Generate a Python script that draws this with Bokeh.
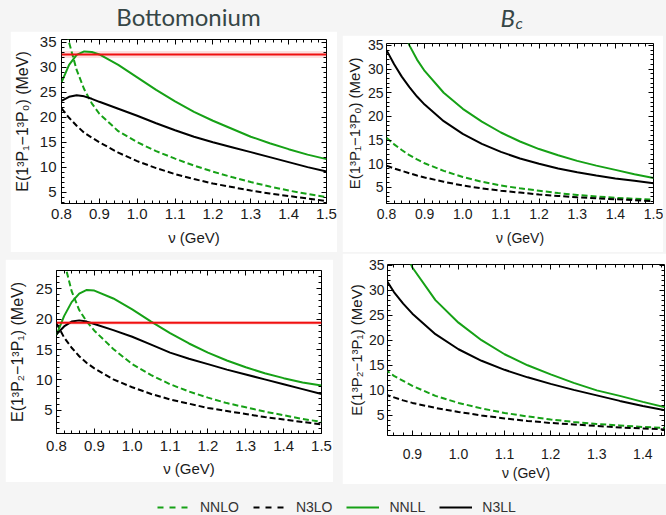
import numpy as np
from bokeh.plotting import figure
from bokeh.models import (Range1d, FixedTicker, LinearAxis, NumeralTickFormatter,
                          Span, BoxAnnotation, Legend, LegendItem)
from bokeh.layouts import column, row
from bokeh.core.properties import value
from bokeh.embed import file_html
from bokeh.resources import INLINE

# ---- renormalization scale nu (GeV) ----
nu = [0.80, 0.82, 0.84, 0.86, 0.88, 0.90, 0.95, 1.00, 1.05, 1.10, 1.15, 1.20,
      1.25, 1.30, 1.35, 1.40, 1.45, 1.50]
nu_bc2 = [0.84, 0.86, 0.88, 0.90, 0.95, 1.00, 1.05, 1.10, 1.15, 1.20, 1.25,
          1.30, 1.35, 1.40, 1.45, 1.50]

# ---- Bottomonium, E(1^3P_1 - 1^3P_0) in MeV ----
bb10_nnlo = [42.0, 35.0, 29.5, 25.6, 22.8, 20.7, 17.2, 15.0, 13.2, 11.7, 10.3, 9.1,
             8.0, 7.0, 6.1, 5.3, 4.6, 4.0]
bb10_n3lo = [21.8, 19.9, 18.3, 16.9, 15.9, 15.0, 12.9, 11.2, 9.8, 8.6, 7.6, 6.7,
             6.0, 5.3, 4.7, 4.2, 3.7, 3.2]
bb10_nnll = [27.0, 30.5, 32.5, 33.2, 33.1, 32.6, 30.5, 28.0, 25.5, 23.2, 21.1, 19.3,
             17.7, 16.1, 14.8, 13.6, 12.5, 11.6]
bb10_n3ll = [23.3, 24.1, 24.4, 24.2, 23.7, 23.1, 21.7, 20.3, 18.8, 17.4, 16.1, 15.0,
             14.0, 13.0, 12.0, 11.0, 10.0, 9.1]
bb10_exp, bb10_err = 32.6, 0.7

# ---- Bottomonium, E(1^3P_2 - 1^3P_1) in MeV ----
bb21_nnlo = [36.5, 29.5, 24.6, 21.5, 19.6, 18.1, 15.1, 12.6, 10.8, 9.3, 8.1, 7.1,
             6.2, 5.5, 4.8, 4.2, 3.6, 3.1]
bb21_n3lo = [19.3, 17.0, 15.3, 13.9, 12.8, 11.9, 10.1, 8.8, 7.7, 6.8, 6.1, 5.4,
             4.9, 4.4, 3.9, 3.5, 3.1, 2.7]
bb21_nnll = [17.4, 20.5, 22.8, 24.2, 24.8, 24.7, 23.4, 21.6, 19.6, 17.7, 16.0, 14.5,
             13.2, 12.1, 11.1, 10.3, 9.6, 9.1]
bb21_n3ll = [17.5, 18.8, 19.6, 19.8, 19.6, 19.2, 18.2, 17.1, 15.8, 14.5, 13.5, 12.6,
             11.7, 10.9, 10.1, 9.3, 8.5, 7.7]
bb21_exp, bb21_err = 19.4, 0.3

# ---- B_c, E(1^3P_1 - 1^3P_0) in MeV ----
bc10_nnlo = [15.5, 14.1, 12.9, 11.8, 10.9, 10.1, 8.5, 7.2, 6.2, 5.4, 4.8, 4.3,
             3.8, 3.4, 3.1, 2.8, 2.6, 2.4]
bc10_n3lo = [9.6, 9.0, 8.5, 8.0, 7.5, 7.1, 6.2, 5.4, 4.8, 4.3, 3.9, 3.5,
             3.2, 2.9, 2.7, 2.5, 2.3, 2.1]
bc10_nnll = [52.0, 45.0, 39.5, 35.0, 32.0, 29.6, 25.0, 21.6, 18.9, 16.6, 14.7, 13.1,
             11.8, 10.6, 9.6, 8.7, 7.8, 7.0]
bc10_n3ll = [34.0, 31.0, 28.4, 26.2, 24.2, 22.5, 19.0, 16.3, 14.2, 12.5, 11.1, 10.0,
             9.0, 8.2, 7.5, 6.9, 6.4, 5.9]

# ---- B_c, E(1^3P_2 - 1^3P_1) in MeV ----
bc21_nnlo = [14.2, 12.9, 11.9, 10.9, 8.9, 7.5, 6.4, 5.5, 4.8, 4.2, 3.7, 3.3,
             3.0, 2.7, 2.5, 2.3]
bc21_n3lo = [9.2, 8.6, 8.0, 7.5, 6.5, 5.7, 5.0, 4.4, 3.9, 3.5, 3.2, 2.9,
             2.6, 2.4, 2.2, 2.0]
bc21_nnll = [47.0, 42.0, 38.5, 34.5, 28.0, 23.5, 20.0, 17.2, 15.0, 13.2, 11.5, 10.0,
             8.9, 7.7, 6.6, 5.7]
bc21_n3ll = [32.5, 29.6, 27.3, 25.3, 21.2, 18.2, 15.9, 14.1, 12.6, 11.3, 10.1, 9.0,
             7.9, 6.9, 6.0, 5.2]

# ---- axis ticks ----
x_ticks = [0.8, 0.9, 1.0, 1.1, 1.2, 1.3, 1.4, 1.5]
x_minor = [round(0.8 + 0.02 * i, 2) for i in range(36)]
y_ticks = [5, 10, 15, 20, 25, 30, 35]
y_minor = list(range(0, 37))

series_names = ["NNLO", "N3LO", "NNLL", "N3LL"]

BG = "#f5f5f5"
GREEN = "#16a116"
BLACK = "#000000"
RED = "#f01010"
FONT = "Liberation Sans"
STYLES = {
    "NNLO": dict(color=GREEN, line_dash="6 3"),
    "N3LO": dict(color=BLACK, line_dash="6 3"),
    "NNLL": dict(color=GREEN, line_dash="solid"),
    "N3LL": dict(color=BLACK, line_dash="solid"),
}


def mirror_axis(ticker, at):
    # tick marks only, pinned to the opposite edge of the frame (takes no border space)
    return LinearAxis(ticker=ticker, fixed_location=at, axis_line_color=None,
                      major_tick_in=5, major_tick_out=0,
                      minor_tick_in=3, minor_tick_out=0,
                      major_tick_line_color="black", minor_tick_line_color="black",
                      major_label_text_color=None, major_label_standoff=0)


def panel(w, h, margin, borders, xr, yr, ylabel, xs, curves, tick_px, lab_px,
          x_std, x_lab_std, y_std, y_lab_std, exp=None):
    left, right, top, bottom = borders
    p = figure(width=w, height=h, margin=margin, title=None,
               x_range=Range1d(*xr), y_range=Range1d(*yr),
               output_backend="svg", toolbar_location=None,
               min_border_left=left, min_border_right=right,
               min_border_top=top, min_border_bottom=bottom,
               background_fill_color="white", border_fill_color="white",
               outline_line_color="black", outline_line_width=1)
    p.grid.visible = False
    xt = FixedTicker(ticks=x_ticks, minor_ticks=x_minor)
    yt = FixedTicker(ticks=y_ticks, minor_ticks=y_minor)

    xa, ya = p.xaxis[0], p.yaxis[0]
    xa.ticker, ya.ticker = xt, yt
    xa.formatter = NumeralTickFormatter(format="0.0")
    ya.formatter = NumeralTickFormatter(format="0")
    for ax in (xa, ya):
        ax.axis_line_color = None
        ax.major_tick_in, ax.major_tick_out = 5, 0
        ax.minor_tick_in, ax.minor_tick_out = 3, 0
        ax.major_tick_line_color = "black"
        ax.minor_tick_line_color = "black"
        ax.major_label_text_font = FONT
        ax.major_label_text_font_size = f"{tick_px}px"
        ax.major_label_text_color = "#1a1a1a"
        ax.axis_label_text_font = FONT
        ax.axis_label_text_font_size = f"{lab_px}px"
        ax.axis_label_text_font_style = "normal"
        ax.axis_label_text_color = "#1a1a1a"
    xa.axis_label = "ν (GeV)"
    ya.axis_label = ylabel
    ya.axis_label_text_font_size = f"{lab_px + 1}px"
    xa.major_label_standoff = x_std
    xa.axis_label_standoff = x_lab_std
    ya.major_label_standoff = y_std
    ya.axis_label_standoff = y_lab_std
    p.add_layout(mirror_axis(xt, yr[1]), "above")
    p.add_layout(mirror_axis(yt, xr[1]), "right")

    if exp is not None:
        val, err = exp
        p.add_layout(BoxAnnotation(bottom=val - err, top=val + err, fill_color=RED,
                                   fill_alpha=0.13, line_color=None, level="underlay"))
    for name, ys in zip(series_names, curves):
        p.line(xs, ys, line_width=2, **STYLES[name])
    if exp is not None:
        p.add_layout(Span(location=exp[0], dimension="width", line_color=RED,
                          line_width=2))
    return p


lab10 = "E(1³P₁−1³P₀) (MeV)"
lab21 = "E(1³P₂−1³P₁) (MeV)"

p_bb10 = panel(327, 221, (0, 0, 0, 10), (49, 11, 8, 49), (0.8, 1.5), (2.7, 35.6),
               lab10, nu, [bb10_nnlo, bb10_n3lo, bb10_nnll, bb10_n3ll],
               15, 15, 5, 7, 5, 6, exp=(bb10_exp, bb10_err))
p_bc10 = panel(321, 217, (4, 0, 0, 5), (41, 10, 5, 49), (0.8, 1.5), (1.6, 35.4),
               lab10, nu, [bc10_nnlo, bc10_n3lo, bc10_nnll, bc10_n3ll],
               14, 14, 5, 8, 3, 2)
p_bb21 = panel(328, 223, (7, 0, 0, 5), (49, 12, 1, 49), (0.8, 1.5), (1.2, 28.0),
               lab21, nu, [bb21_nnlo, bb21_n3lo, bb21_nnll, bb21_n3ll],
               15, 15, 7, 6, 4, 7, exp=(bb21_exp, bb21_err))
p_bc21 = panel(324, 231, (1, 0, 0, 9), (45, 2, 11, 48), (0.846, 1.447), (1.0, 35.1),
               lab21, nu_bc2, [bc21_nnlo, bc21_n3lo, bc21_nnll, bc21_n3ll],
               14, 14, 13, 3, 3, 1)

# ---- column headings ----
head = figure(width=666, height=31, x_range=Range1d(0, 666), y_range=Range1d(0, 31),
              output_backend="svg", toolbar_location=None, min_border=0, title=None,
              x_axis_type=None, y_axis_type=None, outline_line_color=None,
              background_fill_color=BG, border_fill_color=BG)
head.grid.visible = False
TITLE_COLOR = "#364646"
head.text(x=[188], y=[15], text=["Bottomonium"], text_align="center",
          text_baseline="middle", text_font=value("Lato"), text_font_size="24px",
          text_color=TITLE_COLOR)
head.text(x=[500], y=[14], text=["B"], text_align="left", text_baseline="middle",
          text_font=value("Lato"), text_font_style="italic", text_font_size="24px",
          text_color=TITLE_COLOR)
head.text(x=[515], y=[9], text=["c"], text_align="left", text_baseline="middle",
          text_font=value("Lato"), text_font_style="italic", text_font_size="16px",
          text_color=TITLE_COLOR)

# ---- shared legend (its curves lie outside the visible ranges) ----
leg = figure(width=666, height=31, x_range=Range1d(0, 1), y_range=Range1d(0, 1),
             output_backend="svg", toolbar_location=None, min_border=0, title=None,
             x_axis_type=None, y_axis_type=None, outline_line_color=None,
             background_fill_color=BG, border_fill_color=BG)
leg.grid.visible = False
items = []
for name, ys in zip(series_names, [bb10_nnlo, bb10_n3lo, bb10_nnll, bb10_n3ll]):
    st = STYLES[name]
    dash = "6 6" if st["line_dash"] != "solid" else "solid"
    r = leg.line(nu, ys, line_color=st["color"], line_width=2, line_dash=dash)
    items.append(LegendItem(label=name, renderers=[r]))
legend = Legend(items=items, orientation="horizontal", location=(157, 0),
                glyph_width=33, glyph_height=14, label_height=14, label_standoff=10,
                spacing=14, padding=0, margin=0, label_text_font=FONT,
                label_text_font_size="14px", label_text_color="#333333",
                background_fill_alpha=0, border_line_color=None)
leg.add_layout(legend)

page = column(head, row(p_bb10, p_bc10), row(p_bb21, p_bc21), leg,
              width=666, height=515, styles={"background-color": BG})

open("out.html", "w").write(file_html(page, INLINE))
